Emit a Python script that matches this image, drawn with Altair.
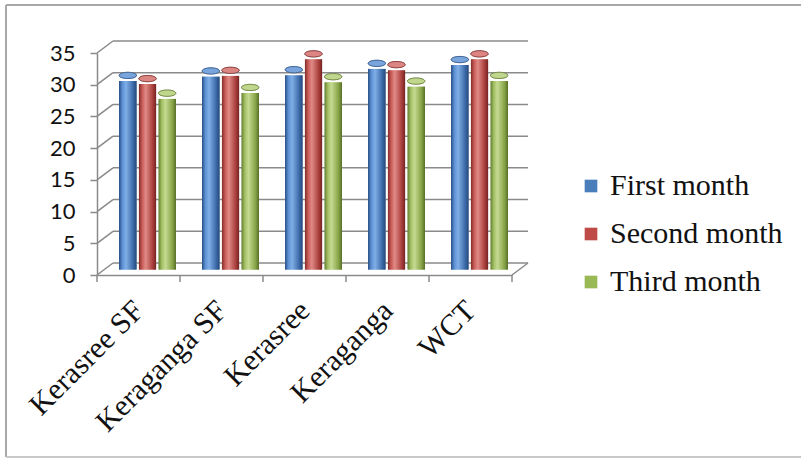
import altair as alt
import pandas as pd

# --- data -------------------------------------------------------------
categories = ["Kerasree SF", "Keraganga SF", "Kerasree", "Keraganga", "WCT"]
series = ["First month", "Second month", "Third month"]
first_month = [30.6, 31.3, 31.5, 32.5, 33.1]
second_month = [30.1, 31.4, 34.0, 32.3, 34.0]
third_month = [27.8, 28.7, 30.4, 29.7, 30.6]
y_ticks = [0, 5, 10, 15, 20, 25, 30, 35]

base_colors = ["#4a7ebb", "#be4b48", "#98b954"]
cap_colors = ["#79a5dc", "#dc8683", "#c0d68c"]
gradients = [
    ["#284f86", "#5f93d6", "#80aee6", "#3b6aa8", "#24487a"],
    ["#7d2725", "#c95c58", "#e08a86", "#a83e3b", "#6f2220"],
    ["#5f7a2c", "#a3c064", "#c5da92", "#87a447", "#566f28"],
]

rows = []
for s, vals in zip(series, [first_month, second_month, third_month]):
    for c, v in zip(categories, vals):
        rows.append({"category": c, "series": s, "value": v})
df = pd.DataFrame(rows)

# --- geometry of the pseudo-3D box ---------------------------------
W, H = 415, 222
DX, DY = 16, -12          # depth shift of the back wall
MID = -5.5                # bars stand half way into the box
GRID = "#8a8a8a"
LW = 1.5

y_scale = alt.Scale(domain=[0, 35], nice=False)
x_scale = alt.Scale(domain=categories, paddingInner=0, paddingOuter=0)
off_scale = alt.Scale(domain=series, range=[22, 79], paddingInner=0.1, paddingOuter=0)

y_axis = alt.Axis(
    title=None,
    values=y_ticks,
    labelFont="Lato",
    labelFontSize=22,
    labelColor="#111111",
    labelPadding=15,
    labelOverlap=False,
    tickSize=7,
    tickColor=GRID,
    tickWidth=LW,
    domainColor=GRID,
    domainWidth=LW,
    grid=False,
)
x_enc = alt.X(
    "category:N",
    sort=categories,
    scale=x_scale,
    axis=alt.Axis(
        title=None,
        labelAngle=-45,
        labelFont="Liberation Serif",
        labelFontSize=30,
        labelColor="#111111",
        labelPadding=20,
        labelOffset=-10,
        labelOverlap=False,
        ticks=False,
        domainColor=GRID,
        domainWidth=LW,
        grid=False,
    ),
)


def y_of(field):
    return alt.Y(field, scale=y_scale, axis=y_axis)


# back wall gridlines
back_grid = alt.Chart(pd.DataFrame({"g": y_ticks})).mark_rule(
    color=GRID, strokeWidth=LW, yOffset=DY
).encode(y=y_of("g:Q"), x=alt.value(DX), x2=alt.value(W + DX))

# side wall diagonals joining the front axis to the back wall
side = alt.Chart(pd.DataFrame({"s": y_ticks})).mark_rule(
    color=GRID, strokeWidth=LW, y2Offset=DY
).encode(y=y_of("s:Q"), y2="s:Q", x=alt.value(0), x2=alt.value(DX))

# right edge of the floor
floor_right = alt.Chart(pd.DataFrame({"f": y_ticks[:1]})).mark_rule(
    color=GRID, strokeWidth=LW, y2Offset=DY
).encode(y=y_of("f:Q"), y2="f:Q", x=alt.value(W), x2=alt.value(W + DX))

# category boundary ticks below the floor
cat_ticks = alt.Chart(pd.DataFrame({"category": categories})).mark_rule(
    color=GRID, strokeWidth=LW, xOffset=-W / 10
).encode(x=x_enc, y=alt.value(H), y2=alt.value(H + 7))
last_tick = alt.Chart(pd.DataFrame({"category": categories[-1:]})).mark_rule(
    color=GRID, strokeWidth=LW, xOffset=W / 10
).encode(x=x_enc, y=alt.value(H), y2=alt.value(H + 7))

# outer frame
frame_left = alt.Chart(pd.DataFrame({"side": ["left"]})).mark_rule(
    color="#a8a8a8", strokeWidth=2
).encode(x=alt.value(-91), y=alt.value(-48), y2=alt.value(404))
frame_top = alt.Chart(pd.DataFrame({"side": ["top"]})).mark_rule(
    color="#a8a8a8", strokeWidth=2
).encode(x=alt.value(-91), x2=alt.value(710), y=alt.value(-48))
frame_bottom = alt.Chart(pd.DataFrame({"side": ["bottom"]})).mark_rule(
    color="#c8c8c8", strokeWidth=2
).encode(x=alt.value(-91), x2=alt.value(710), y=alt.value(404))


# cylinders: one layer per series with a shaded fill and a lighter top cap
ellipse = "M -1 0 A 1 0.36 0 1 1 1 0 A 1 0.36 0 1 1 -1 0 Z"


def cylinders():
    out = []
    for s, stops, cap in zip(series, gradients, cap_colors):
        grad = alt.LinearGradient(
            gradient="linear",
            x1=0, x2=1, y1=0, y2=0,
            stops=[
                alt.GradientStop(color=stops[0], offset=0),
                alt.GradientStop(color=stops[1], offset=0.2),
                alt.GradientStop(color=stops[2], offset=0.4),
                alt.GradientStop(color=stops[3], offset=0.8),
                alt.GradientStop(color=stops[4], offset=1),
            ],
        )
        sub = alt.Chart(df).transform_filter(alt.datum.series == s)
        bars = sub.mark_bar(
            color=grad,
            yOffset=MID,
            y2Offset=MID,
            cornerRadiusBottomLeft=5,
            cornerRadiusBottomRight=5,
        ).encode(
            x=x_enc,
            xOffset=alt.XOffset("series:N", scale=off_scale),
            y=y_of("value:Q"),
        )
        caps = sub.mark_point(
            shape=ellipse, filled=True, opacity=1, size=300, color=cap,
            stroke=stops[4], strokeWidth=0.6, yOffset=MID,
        ).encode(
            x=x_enc,
            xOffset=alt.XOffset("series:N", scale=off_scale),
            y=y_of("value:Q"),
        )
        out += [bars, caps]
    return out


# legend carrier
legend_layer = alt.Chart(df).mark_square(opacity=0).encode(
    x=x_enc,
    xOffset=alt.XOffset("series:N", scale=off_scale),
    y=y_of("value:Q"),
    color=alt.Color(
        "series:N",
        scale=alt.Scale(domain=series, range=base_colors),
        legend=alt.Legend(
            title=None,
            orient="none",
            legendX=479,
            legendY=118,
            symbolType="square",
            symbolSize=160,
            symbolOpacity=1,
            symbolStrokeWidth=0,
            labelFont="Liberation Serif",
            labelFontSize=30,
            labelLimit=0,
            labelColor="#111111",
            labelOffset=4,
            rowPadding=18,
        ),
    ),
)

# walls go in after a first pass of cylinders; the cylinders are then
# drawn once more so they stay in front of the back-wall lines
layers = (
    [frame_left, frame_top, frame_bottom, cat_ticks, last_tick, legend_layer]
    + cylinders()
    + [back_grid, side, floor_right]
    + cylinders()
)

chart = alt.layer(*layers).properties(
    width=W,
    height=H,
    autosize="none",
    padding={"left": 97, "top": 53, "right": 289, "bottom": 184},
    background="white",
).configure_view(strokeWidth=0)

chart.save("out.html", embed_options={"renderer": "svg", "actions": False})
